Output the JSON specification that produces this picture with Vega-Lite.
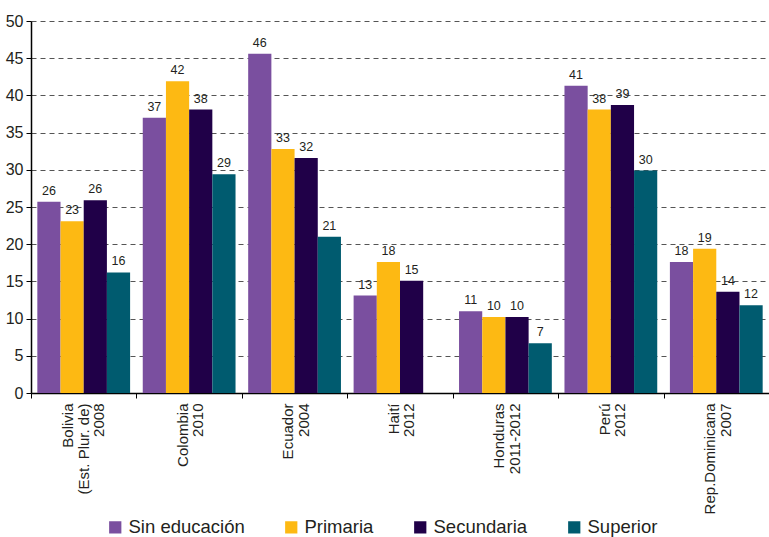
{
  "$schema": "https://vega.github.io/schema/vega-lite/v6.json",
  "autosize": {"type": "none"},
  "width": 738,
  "height": 372,
  "padding": {"left": 31, "top": 21, "right": 0, "bottom": 144},
  "background": "white",
  "config": {
    "font": "Liberation Sans",
    "view": {"stroke": null},
    "axis": {"labelFont": "Liberation Sans", "labelColor": "#231f20", "domainColor": "#000", "tickColor": "#000"},
    "legend": {"padding": 0}
  },
  "data": {
    "values": [
      {"pais": "Bolivia|(Est. Plur. de)|2008", "nivel": "Sin educación", "valor": 25.7},
      {"pais": "Bolivia|(Est. Plur. de)|2008", "nivel": "Primaria", "valor": 23.1},
      {"pais": "Bolivia|(Est. Plur. de)|2008", "nivel": "Secundaria", "valor": 25.9},
      {"pais": "Bolivia|(Est. Plur. de)|2008", "nivel": "Superior", "valor": 16.2},
      {"pais": "Colombia|2010", "nivel": "Sin educación", "valor": 37.0},
      {"pais": "Colombia|2010", "nivel": "Primaria", "valor": 41.9},
      {"pais": "Colombia|2010", "nivel": "Secundaria", "valor": 38.1},
      {"pais": "Colombia|2010", "nivel": "Superior", "valor": 29.4},
      {"pais": "Ecuador|2004", "nivel": "Sin educación", "valor": 45.6},
      {"pais": "Ecuador|2004", "nivel": "Primaria", "valor": 32.8},
      {"pais": "Ecuador|2004", "nivel": "Secundaria", "valor": 31.6},
      {"pais": "Ecuador|2004", "nivel": "Superior", "valor": 21.0},
      {"pais": "Haití|2012", "nivel": "Sin educación", "valor": 13.1},
      {"pais": "Haití|2012", "nivel": "Primaria", "valor": 17.6},
      {"pais": "Haití|2012", "nivel": "Secundaria", "valor": 15.1},
      {"pais": "Honduras|2011-2012", "nivel": "Sin educación", "valor": 11.0},
      {"pais": "Honduras|2011-2012", "nivel": "Primaria", "valor": 10.2},
      {"pais": "Honduras|2011-2012", "nivel": "Secundaria", "valor": 10.2},
      {"pais": "Honduras|2011-2012", "nivel": "Superior", "valor": 6.7},
      {"pais": "Perú|2012", "nivel": "Sin educación", "valor": 41.3},
      {"pais": "Perú|2012", "nivel": "Primaria", "valor": 38.1},
      {"pais": "Perú|2012", "nivel": "Secundaria", "valor": 38.7},
      {"pais": "Perú|2012", "nivel": "Superior", "valor": 29.9},
      {"pais": "Rep.Dominicana|2007", "nivel": "Sin educación", "valor": 17.6},
      {"pais": "Rep.Dominicana|2007", "nivel": "Primaria", "valor": 19.4},
      {"pais": "Rep.Dominicana|2007", "nivel": "Secundaria", "valor": 13.6},
      {"pais": "Rep.Dominicana|2007", "nivel": "Superior", "valor": 11.8}
    ]
  },
  "encoding": {
    "x": {
      "field": "pais", "type": "nominal", "sort": null,
      "scale": {"paddingInner": 0.12, "paddingOuter": 0.06},
      "axis": {
        "title": null, "labelAngle": -90, "labelFontSize": 15, "labelPadding": 5,
        "labelExpr": "split(datum.label, '|')", "tickOffset": -52.7,
        "labelOffset": {"condition": {"test": "indexof(datum.value, 'Bolivia') >= 0", "value": 36.5}, "value": 46},
        "tickSize": 5, "labelLineHeight": 15.5, "domainWidth": 1.5
      }
    },
    "xOffset": {"field": "nivel", "type": "nominal", "sort": ["Sin educación", "Primaria", "Secundaria", "Superior"]},
    "y": {
      "field": "valor", "type": "quantitative",
      "scale": {"domain": [0, 50], "nice": false},
      "axis": {
        "title": null, "values": [0, 5, 10, 15, 20, 25, 30, 35, 40, 45, 50], "labelFontSize": 16,
        "grid": true, "gridDash": [5, 4], "gridColor": "#555", "gridWidth": 1, "tickSize": 5, "labelPadding": 3, "domainWidth": 1.5
      }
    }
  },
  "layer": [
    {
      "mark": {"type": "bar"},
      "encoding": {
        "color": {
          "field": "nivel", "type": "nominal",
          "sort": ["Sin educación", "Primaria", "Secundaria", "Superior"],
          "scale": {"domain": ["Sin educación", "Primaria", "Secundaria", "Superior"], "range": ["#7a4f9f", "#fdb913", "#200048", "#005b6f"]},
          "legend": {
            "title": null, "orient": "none", "legendX": 75, "legendY": 497, "direction": "horizontal",
            "symbolType": "square", "symbolSize": 150, "symbolStrokeWidth": 0, "labelFontSize": 18.5,
            "labelColor": "#231f20", "columnPadding": 37, "labelOffset": 4, "symbolOpacity": 1
          }
        }
      }
    },
    {
      "mark": {"type": "text", "baseline": "bottom", "dy": -4, "fontSize": 12.5, "color": "#231f20"},
      "encoding": {"text": {"field": "valor", "type": "quantitative", "format": ".0f"}}
    }
  ]
}
